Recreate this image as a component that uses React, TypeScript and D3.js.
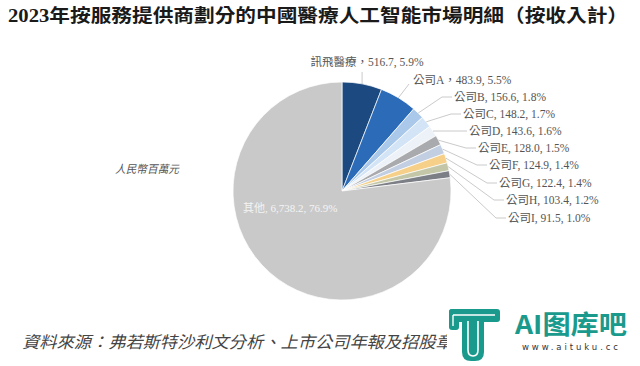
import React from 'react';
import * as d3 from 'd3';

const TITLE = '2023年按服務提供商劃分的中國醫療人工智能市場明細（按收入計）';
const UNIT = '人民幣百萬元';
const SOURCE = '資料來源：弗若斯特沙利文分析、上市公司年報及招股章程';

const NAMES = ['訊飛醫療', '公司A', '公司B', '公司C', '公司D', '公司E', '公司F', '公司G', '公司H', '公司I', '其他'];
const VALUES = [516.7, 483.9, 156.6, 148.2, 143.6, 128.0, 124.9, 122.4, 103.4, 91.5, 6738.2];
const COLORS = ['#1c4a80', '#2b6bb8', '#a9c8ea', '#d3e4f6', '#edf2f8', '#a9aaad', '#c2cfe3', '#f6cf88', '#c3c7a7', '#7c7f86', '#c9c9c9'];

// label anchor layout (left x, middle y) for outside labels
const LABEL_POS: [number, number][] = [
  [367, 62], [413, 80], [454, 97], [463, 114], [469, 131], [478, 148],
  [489, 165], [499, 183], [506, 200], [508, 218],
];

const W = 640, H = 366;
const CX = 342, CY = 191, R = 109;

export default function App() {
  const total = d3.sum(VALUES);
  const pie = d3.pie<number>().sort(null).value((d) => d)(VALUES);
  const arc = d3.arc<d3.PieArcDatum<number>>().innerRadius(0).outerRadius(R);
  const fmtV = d3.format(',.1f');
  const fmtP = d3.format('.1%');

  const labelText = (i: number) => {
    const sep = i < 2 ? '，' : ', ';
    return `${NAMES[i]}${sep}${fmtV(VALUES[i])}, ${fmtP(VALUES[i] / total)}`;
  };

  const serif = "'Liberation Serif', 'Noto Sans CJK TC', serif";
  const teal = '#1a9a8c';

  return (
    <svg width={W} height={H} style={{ position: 'absolute', left: 0, top: 0, background: '#fff' }}>
      <text x={8} y={22} fontFamily={serif} fontWeight="bold" fontSize={18.5} fill="#1a1a1a" textLength={620} lengthAdjust="spacingAndGlyphs">
        {TITLE}
      </text>
      <text x={115} y={173} fontFamily={serif} fontStyle="italic" fontSize={11} fill="#555" textLength={64} lengthAdjust="spacingAndGlyphs">
        {UNIT}
      </text>
      <g transform={`translate(${CX},${CY})`}>
        {pie.map((p, i) => (
          <path key={i} d={arc(p) || ''} fill={COLORS[i]} stroke="#fff" strokeWidth={0.7} />
        ))}
      </g>
      {pie.slice(0, 10).map((p, i) => {
        const mid = (p.startAngle + p.endAngle) / 2;
        const ex = CX + Math.sin(mid) * R;
        const ey = CY - Math.cos(mid) * R;
        const [lx, ly] = LABEL_POS[i];
        let pts: [number, number][];
        if (i === 0) {
          pts = [[ex, ey], [ex, ly + 10]];
        } else if (i === 1) {
          pts = [[ex, ey], [lx - 4, ly + 4]];
        } else {
          pts = [[ex, ey], [lx - 12, ly], [lx - 2, ly]];
        }
        const line = d3.line()(pts) || '';
        return (
          <g key={i}>
            <path d={line} fill="none" stroke="#bdbdbd" strokeWidth={0.8} />
            <text
              x={lx}
              y={ly}
              dy="0.35em"
              textAnchor={i === 0 ? 'middle' : 'start'}
              fontFamily={serif}
              fontSize={11.5}
              fill="#555"
            >
              {labelText(i)}
            </text>
          </g>
        );
      })}
      <text x={243} y={208} dy="0.35em" fontFamily={serif} fontSize={11} fill="#f4f4f4">
        {`${NAMES[10]}, ${fmtV(VALUES[10])}, ${fmtP(VALUES[10] / total)}`}
      </text>
      <text x={22} y={348} fontFamily={serif} fontStyle="italic" fontSize={16.5} fill="#444" textLength={448} lengthAdjust="spacingAndGlyphs">
        {SOURCE}
      </text>
      {/* watermark */}
      <g>
        <rect x={447} y={304} width={193} height={62} fill="#fff" />
        <rect x={449} y={309} width={51} height={13} rx={3} fill={teal} />
        <rect x={449} y={309} width={10} height={21} rx={3} fill={teal} />
        <path d="M462,320 V352 q0,9 9,9 h4 q9,0 9,-9 V320 Z" fill={teal} />
        <path d="M453,315 H495" stroke="#fff" strokeWidth={1.4} fill="none" />
        <path d="M453,315 V326" stroke="#fff" strokeWidth={1.4} fill="none" />
        <path d="M468,321 V350 q0,6 5,6 q5,0 5,-6 V321" stroke="#fff" strokeWidth={1.6} fill="none" />
        <text x={515} y={334} fontFamily="'Noto Sans CJK SC', sans-serif" fontWeight="bold" fontSize={26} fill={teal} textLength={112} lengthAdjust="spacingAndGlyphs">
          AI图库吧
        </text>
        <text x={522} y={350} fontFamily="'DejaVu Sans', sans-serif" fontSize={8.5} fill="#333" textLength={96} lengthAdjust="spacing">
          www.aituku.cc
        </text>
      </g>
    </svg>
  );
}
